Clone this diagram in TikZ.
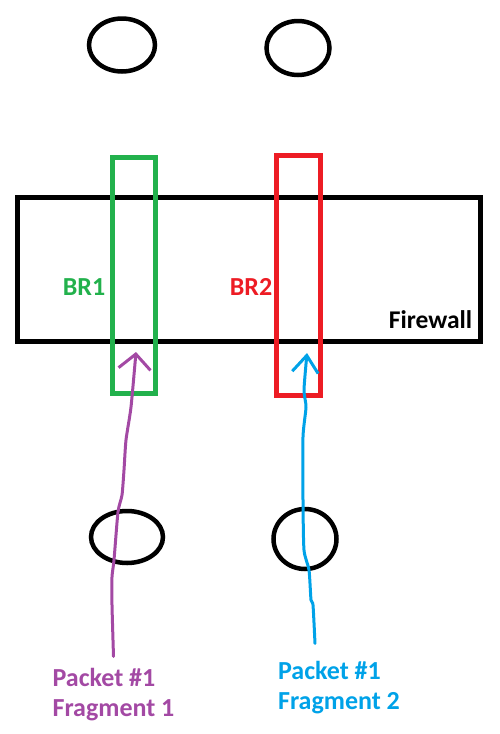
\documentclass[tikz,border=0pt]{standalone}
\usepackage{fontspec}
\setmainfont{Carlito}
\usetikzlibrary{arrows.meta, shapes.geometric}
\definecolor{brgreen}{HTML}{22B14C}
\definecolor{brred}{HTML}{ED1C24}
\definecolor{pktpurple}{HTML}{A349A4}
\definecolor{pktblue}{HTML}{00A2E8}

\begin{document}
\begin{tikzpicture}[x=1pt, y=-1pt,
    host/.style={draw, ellipse, line width=4.5pt, inner sep=0pt},
    bridge/.style={draw, line width=5pt, inner sep=0pt, minimum width=44pt},
    tag/.style={font=\bfseries\fontsize{26}{30}\selectfont, inner sep=0pt},
    pkt/.style={line width=3pt, line cap=round, line join=round}]
  \useasboundingbox (0,0) rectangle (500,734);

  % hosts above and below
  \node[host, minimum width=66pt, minimum height=53pt] (hostTL) at (122,45) {};
  \node[host, minimum width=63pt, minimum height=54pt] (hostTR) at (298,48) {};
  \node[host, minimum width=72pt, minimum height=52pt] (hostBL) at (127,537) {};
  \node[host, minimum width=63pt, minimum height=60pt] (hostBR) at (305,539) {};

  % firewall box
  \node[draw, line width=5pt, inner sep=0pt,
        minimum width=462.5pt, minimum height=144pt] (fw) at (248.75,269.5) {};
  \node[tag, font=\bfseries\fontsize{25.5}{28}\selectfont] (fwname) at (430.5,319.5) {Firewall};

  % bridges
  \node[bridge, draw=brgreen, minimum width=43pt, minimum height=236pt] (br1) at (133.5,275) {};
  \node[bridge, draw=brred, minimum height=240pt] (br2) at (298,275) {};
  \node[tag, text=brgreen] (br1name) at (84,287) {BR1};
  \node[tag, text=brred] (br2name) at (251,287) {BR2};

  % fragments
  \node[tag, text=pktpurple, align=left] (frag1) at (113.5,695) {Packet \#1\\Fragment 1};
  \node[tag, text=pktblue, align=left] (frag2) at (339,688) {Packet \#1\\Fragment 2};

  \coordinate (tip1) at (136,352);
  \coordinate (tip2) at (307,353);

  \draw[pkt, pktpurple, -{Straight Barb[length=15pt, width=32pt]}]
    plot[smooth, tension=0.4] coordinates {([yshift=12pt]frag1.north) (112,605) (112,577)
      (114,560) (118,512) (122,495) (124,470) (126,440) (131,407) (tip1)};
  \draw[pkt, pktblue, -{Straight Barb[length=17pt, width=26pt]}]
    plot[smooth, tension=0.4] coordinates {([xshift=-24pt, yshift=18pt]frag2.north) (313,605)
      (311,600) (309,570) (304,550) (303,500) (303,437) (306,407) (304,390) (tip2)};
\end{tikzpicture}
\end{document}
